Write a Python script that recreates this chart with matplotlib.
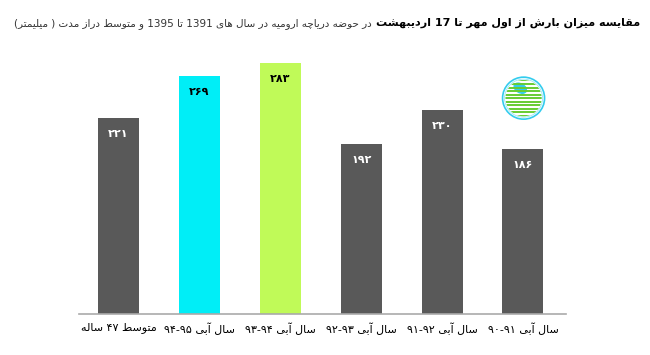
import re
import matplotlib
matplotlib.use('Agg')
import matplotlib.pyplot as plt
from matplotlib.patches import Circle, Ellipse

# داده ها (از چپ به راست)
labels = ['متوسط ۴۷ ساله', 'سال آبی ۹۵-۹۴', 'سال آبی ۹۴-۹۳',
          'سال آبی ۹۳-۹۲', 'سال آبی ۹۲-۹۱', 'سال آبی ۹۱-۹۰']
values = [221, 269, 283, 192, 230, 186]
colors = ['#595959', '#00EEF7', '#C0FA58', '#595959', '#595959', '#595959']
text_colors = ['white', 'black', 'black', 'white', 'white', 'white']

title_bold = 'مقایسه میزان بارش از اول مهر تا 17 اردیبهشت'
title_rest = 'در حوضه دریاچه ارومیه در سال های 1391 تا 1395 و متوسط دراز مدت ( میلیمتر)'

# شکل های حروف: جدا، پایانی، آغازی، میانی
FORMS = {
    'ا': ('\uFE8D', '\uFE8E'), 'آ': ('\uFE81', '\uFE82'),
    'د': ('\uFEA9', '\uFEAA'), 'ر': ('\uFEAD', '\uFEAE'),
    'ز': ('\uFEAF', '\uFEB0'), 'و': ('\uFEED', '\uFEEE'),
    'ب': ('\uFE8F', '\uFE90', '\uFE91', '\uFE92'),
    'ت': ('\uFE95', '\uFE96', '\uFE97', '\uFE98'),
    'ح': ('\uFEA1', '\uFEA2', '\uFEA3', '\uFEA4'),
    'چ': ('\uFB7A', '\uFB7B', '\uFB7C', '\uFB7D'),
    'س': ('\uFEB1', '\uFEB2', '\uFEB3', '\uFEB4'),
    'ش': ('\uFEB5', '\uFEB6', '\uFEB7', '\uFEB8'),
    'ض': ('\uFEBD', '\uFEBE', '\uFEBF', '\uFEC0'),
    'ط': ('\uFEC1', '\uFEC2', '\uFEC3', '\uFEC4'),
    'ق': ('\uFED5', '\uFED6', '\uFED7', '\uFED8'),
    'ل': ('\uFEDD', '\uFEDE', '\uFEDF', '\uFEE0'),
    'م': ('\uFEE1', '\uFEE2', '\uFEE3', '\uFEE4'),
    'ن': ('\uFEE5', '\uFEE6', '\uFEE7', '\uFEE8'),
    'ه': ('\uFEE9', '\uFEEA', '\uFEEB', '\uFEEC'),
    'ی': ('\uFBFC', '\uFBFD', '\uFBFE', '\uFBFF'),
}
MIRROR = {'(': ')', ')': '('}


def rtl(s):
    out = []
    for i, c in enumerate(s):
        if c not in FORMS:
            out.append(c)
            continue
        f = FORMS[c]
        prev = i > 0 and s[i - 1] in FORMS and len(FORMS[s[i - 1]]) == 4
        nxt = len(f) == 4 and i + 1 < len(s) and s[i + 1] in FORMS
        if prev and nxt:
            out.append(f[3])
        elif prev:
            out.append(f[1])
        elif nxt:
            out.append(f[2])
        else:
            out.append(f[0])
    tokens = re.findall(r'[0-9\u06F0-\u06F9]+|.', ''.join(out))
    return ''.join(MIRROR.get(t, t) for t in reversed(tokens))


def fa_num(v):
    return str(v).translate(str.maketrans('0123456789', '۰۱۲۳۴۵۶۷۸۹'))


plt.rcParams['font.family'] = ['DejaVu Sans']

fig = plt.figure(figsize=(6.5, 3.55), dpi=100)
ax = fig.add_axes([0.1215, 0.1155, 0.749, 0.749])

x = list(range(len(values)))
ax.bar(x, values, width=0.506, color=colors)
for xi, v, tc in zip(x, values, text_colors):
    ax.annotate(fa_num(v), (xi, v), xytext=(0, -16), textcoords='offset pixels',
                ha='center', va='center', color=tc, fontsize=8, fontweight='bold')

ax.set_xlim(-0.488, 5.53)
ax.set_ylim(0, 300)
ax.set_xticks(x)
ax.set_xticklabels([rtl(l) for l in labels], fontsize=8)
ax.tick_params(axis='x', length=0, pad=6)
ax.set_yticks([])
for s in ['top', 'left', 'right']:
    ax.spines[s].set_visible(False)
ax.spines['bottom'].set_color('#aaaaaa')
ax.spines['bottom'].set_linewidth(1.2)

# عنوان
t1 = fig.text(0.985, 0.935, rtl(title_bold), ha='right', va='center',
              fontsize=8, color='black', fontweight='bold')
fig.canvas.draw()
bb = t1.get_window_extent(fig.canvas.get_renderer())
fig.text(bb.x0 / fig.bbox.width - 0.006, 0.935, rtl(title_rest), ha='right', va='center',
         fontsize=7.45, color='#333333')

# نشان
lax = fig.add_axes([0.768, 0.655, 0.075, 0.137])
lax.set_xlim(-1.1, 1.1)
lax.set_ylim(-1.1, 1.1)
lax.set_aspect('equal')
lax.axis('off')
clip = Circle((0, 0), 0.82, transform=lax.transData)
for yy in [i * 0.16 - 0.8 for i in range(11)]:
    ln, = lax.plot([-1, 1], [yy, yy], color='#66CC33', lw=1.4)
    ln.set_clip_path(clip)
lax.add_patch(Ellipse((0.05, 0.1), 0.6, 1.2, angle=-20, color='white'))
lax.add_patch(Ellipse((-0.15, 0.45), 0.6, 0.4, angle=-30, color='#33CCEE'))
lax.add_patch(Circle((0, 0), 0.95, fill=False, ec='#33CCEE', lw=1.2))
lax.add_patch(Circle((0, 0), 0.86, fill=False, ec='#99E6F5', lw=0.6))

fig.savefig('out.png', dpi=100)
